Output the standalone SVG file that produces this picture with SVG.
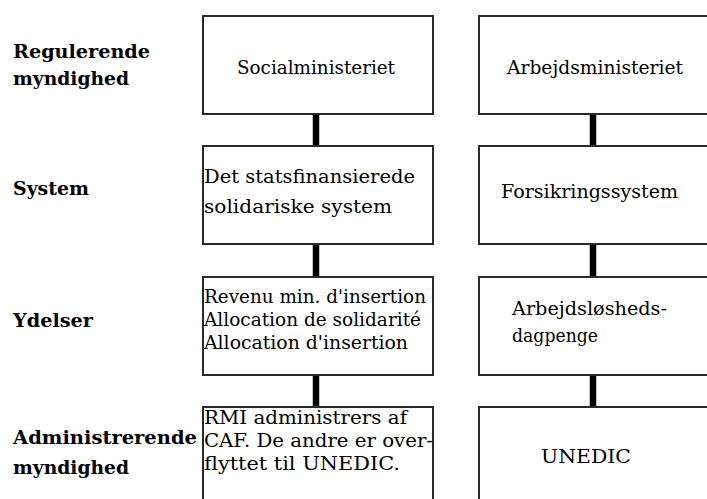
<svg xmlns="http://www.w3.org/2000/svg" width="707" height="499" viewBox="0 0 707 499">
  <style>
    .box { fill: #fff; stroke: #2a2a2a; stroke-width: 2; }
    .link { stroke: #000; stroke-width: 6.5; fill: none; }
    .lbl { font-family: "DejaVu Serif", "Liberation Serif", serif; font-size: 19px; font-weight: bold; fill: #000; }
    .txt { font-family: "DejaVu Serif", "Liberation Serif", serif; font-size: 19px; fill: #000; }
  </style>
  <rect width="707" height="499" fill="#fff"/>

  <!-- row labels -->
  <g id="row-labels">
    <text class="lbl" x="13" y="58" textLength="137" lengthAdjust="spacingAndGlyphs">Regulerende</text>
    <text class="lbl" x="13" y="85" textLength="116" lengthAdjust="spacingAndGlyphs">myndighed</text>
    <text class="lbl" x="13" y="195" textLength="76" lengthAdjust="spacingAndGlyphs">System</text>
    <text class="lbl" x="13" y="327" textLength="80" lengthAdjust="spacingAndGlyphs">Ydelser</text>
    <text class="lbl" x="13" y="444" textLength="184" lengthAdjust="spacingAndGlyphs">Administrerende</text>
    <text class="lbl" x="13" y="474" textLength="116" lengthAdjust="spacingAndGlyphs">myndighed</text>
  </g>

  <!-- connectors -->
  <g id="connectors">
    <line class="link" x1="316" y1="114" x2="316" y2="146"/>
    <line class="link" x1="316" y1="244" x2="316" y2="277"/>
    <line class="link" x1="316" y1="375" x2="316" y2="407"/>
    <line class="link" x1="593" y1="114" x2="593" y2="146"/>
    <line class="link" x1="593" y1="244" x2="593" y2="277"/>
    <line class="link" x1="593" y1="375" x2="593" y2="407"/>
  </g>

  <!-- left column -->
  <g id="socialministeriet">
    <rect class="box" x="203" y="16" width="230" height="98"/>
    <text class="txt" x="237" y="74" textLength="158" lengthAdjust="spacingAndGlyphs">Socialministeriet</text>
  </g>
  <g id="solidariske-system">
    <rect class="box" x="203" y="146" width="230" height="98"/>
    <text class="txt" x="204" y="183" textLength="211" lengthAdjust="spacingAndGlyphs">Det statsfinansierede</text>
    <text class="txt" x="204" y="213" textLength="188" lengthAdjust="spacingAndGlyphs">solidariske system</text>
  </g>
  <g id="ydelser-solidarisk">
    <rect class="box" x="203" y="277" width="230" height="98"/>
    <text class="txt" x="204" y="303" textLength="222" lengthAdjust="spacingAndGlyphs">Revenu min. d'insertion</text>
    <text class="txt" x="204" y="326" textLength="217" lengthAdjust="spacingAndGlyphs">Allocation de solidarité</text>
    <text class="txt" x="204" y="349" textLength="204" lengthAdjust="spacingAndGlyphs">Allocation d'insertion</text>
  </g>
  <g id="caf">
    <rect class="box" x="203" y="407" width="230" height="100"/>
    <text class="txt" x="204" y="424" textLength="203" lengthAdjust="spacingAndGlyphs">RMI administrers af</text>
    <text class="txt" x="204" y="447" textLength="229" lengthAdjust="spacingAndGlyphs">CAF. De andre er over-</text>
    <text class="txt" x="204" y="470" textLength="196" lengthAdjust="spacingAndGlyphs">flyttet til UNEDIC.</text>
  </g>

  <!-- right column -->
  <g id="arbejdsministeriet">
    <rect class="box" x="479" y="16" width="240" height="98"/>
    <text class="txt" x="507" y="74" textLength="176" lengthAdjust="spacingAndGlyphs">Arbejdsministeriet</text>
  </g>
  <g id="forsikringssystem">
    <rect class="box" x="479" y="146" width="240" height="98"/>
    <text class="txt" x="501" y="198" textLength="177" lengthAdjust="spacingAndGlyphs">Forsikringssystem</text>
  </g>
  <g id="dagpenge">
    <rect class="box" x="479" y="277" width="240" height="98"/>
    <text class="txt" x="512" y="315" textLength="155" lengthAdjust="spacingAndGlyphs">Arbejdsløsheds-</text>
    <text class="txt" x="512" y="342" textLength="86" lengthAdjust="spacingAndGlyphs">dagpenge</text>
  </g>
  <g id="unedic">
    <rect class="box" x="479" y="407" width="240" height="100"/>
    <text class="txt" x="541" y="463" textLength="90" lengthAdjust="spacingAndGlyphs">UNEDIC</text>
  </g>
</svg>
